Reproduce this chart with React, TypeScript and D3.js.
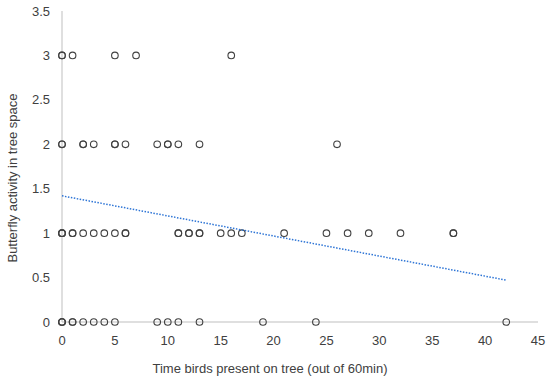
import React, { useEffect, useRef } from 'react';
import * as d3 from 'd3';

// Observations: [minutes birds present, butterfly activity]; repeats overlap and look bolder
const level3 = [0, 0, 1, 5, 7, 16];
const level2 = [0, 0, 2, 2, 3, 5, 5, 6, 9, 10, 10, 11, 13, 26];
const level1 = [0, 0, 0, 1, 1, 2, 3, 4, 5, 6, 6, 11, 11, 12, 12, 13, 13, 15, 16, 17, 21, 25, 27, 29, 32, 37, 37];
const level0 = [0, 0, 0, 1, 1, 2, 3, 4, 5, 9, 10, 11, 13, 19, 24, 42];

const xTicks = [0, 5, 10, 15, 20, 25, 30, 35, 40, 45];
const yTicks = [0, 0.5, 1, 1.5, 2, 2.5, 3, 3.5];

// linear trendline
const trendIntercept = 1.42;
const trendSlope = -0.0226;

const W = 550;
const H = 380;

export default function App() {
  const svgRef = useRef<SVGSVGElement | null>(null);

  useEffect(() => {
    const svg = d3.select(svgRef.current);
    svg.selectAll('*').remove();

    const x = d3.scaleLinear().domain([0, 45]).range([62, 538]);
    const y = d3.scaleLinear().domain([0, 3.5]).range([322, 11]);

    const font = 'Liberation Sans, Arial, sans-serif';

    const points = [
      ...level3.map(v => [v, 3]),
      ...level2.map(v => [v, 2]),
      ...level1.map(v => [v, 1]),
      ...level0.map(v => [v, 0]),
    ];

    // axes lines
    svg.append('line')
      .attr('x1', x(0)).attr('x2', x(0))
      .attr('y1', y(3.5)).attr('y2', y(0))
      .attr('stroke', '#bfbfbf').attr('stroke-width', 1);
    svg.append('line')
      .attr('x1', x(0)).attr('x2', x(45))
      .attr('y1', y(0)).attr('y2', y(0))
      .attr('stroke', '#bfbfbf').attr('stroke-width', 1);

    // tick labels
    svg.append('g').selectAll('text')
      .data(yTicks)
      .enter().append('text')
      .attr('x', 50)
      .attr('y', d => y(d))
      .attr('dy', '0.35em')
      .attr('text-anchor', 'end')
      .attr('font-family', font)
      .attr('font-size', 13)
      .attr('fill', '#404040')
      .text(d => String(d));

    svg.append('g').selectAll('text')
      .data(xTicks)
      .enter().append('text')
      .attr('x', d => x(d))
      .attr('y', 345)
      .attr('text-anchor', 'middle')
      .attr('font-family', font)
      .attr('font-size', 13)
      .attr('fill', '#404040')
      .text(d => String(d));

    // axis titles
    svg.append('text')
      .attr('transform', 'translate(17,178) rotate(-90)')
      .attr('text-anchor', 'middle')
      .attr('font-family', font)
      .attr('font-size', 13)
      .attr('fill', '#404040')
      .text('Butterfly activity in tree space');

    svg.append('text')
      .attr('x', 270)
      .attr('y', 373)
      .attr('text-anchor', 'middle')
      .attr('font-family', font)
      .attr('font-size', 13)
      .attr('fill', '#404040')
      .text('Time birds present on tree (out of 60min)');

    // points
    svg.append('g').selectAll('circle')
      .data(points)
      .enter().append('circle')
      .attr('cx', d => x(d[0]))
      .attr('cy', d => y(d[1]))
      .attr('r', 3.3)
      .attr('fill', 'none')
      .attr('stroke', '#404040')
      .attr('stroke-width', 1.1);

    // trendline over the x range of the data
    const xs = d3.extent(points, d => d[0]) as [number, number];
    const line = d3.line<number>()
      .x(d => x(d))
      .y(d => y(trendIntercept + trendSlope * d));
    svg.append('path')
      .attr('d', line(xs))
      .attr('fill', 'none')
      .attr('stroke', '#2e75d6')
      .attr('stroke-width', 1.5)
      .attr('stroke-dasharray', '1.5,1.5');
  }, []);

  return (
    <svg
      ref={svgRef}
      width={W}
      height={H}
      style={{ position: 'absolute', left: 0, top: 0, background: '#fff' }}
    />
  );
}
